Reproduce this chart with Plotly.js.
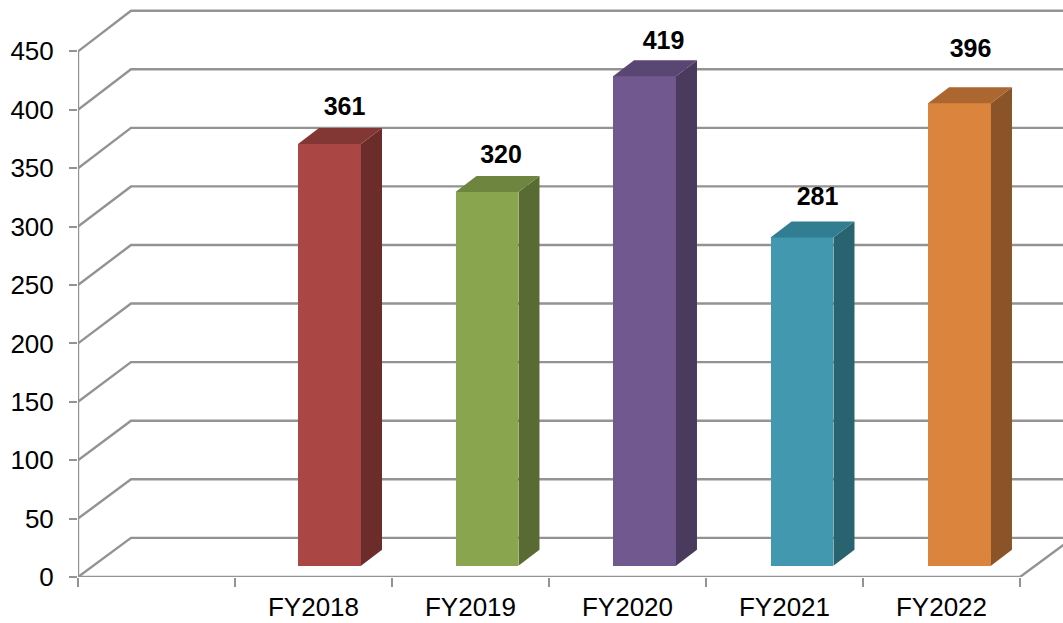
<!DOCTYPE html>
<html>
<head>
<meta charset="utf-8">
<script src="https://cdn.plot.ly/plotly-3.0.1.min.js"></script>
<style>html,body{margin:0;padding:0;background:#fff;overflow:hidden}</style>
</head>
<body>
<div id="chart" style="width:1063px;height:623px"></div>
<script>
var categories = ["FY2018", "FY2019", "FY2020", "FY2021", "FY2022"];
var values = [361, 320, 419, 281, 396];
var yTicks = [0, 50, 100, 150, 200, 250, 300, 350, 400, 450];
var slotEdges = [-0.5, 0.5, 1.5, 2.5, 3.5, 4.5, 5.5];
var slotCenters = [1, 2, 3, 4, 5];
var frontColors = ["#AA4643", "#89A54E", "#71588F", "#4198AF", "#DB843D"];
var sideColors = ["#6B2C2A", "#5A6A33", "#4A3A5E", "#296370", "#8B5428"];
var topColors = ["#823735", "#6E853F", "#5A4672", "#317D91", "#AB672F"];
var labelNudgeX = [15, 14, 19, 15.5, 11];   // px, label centre from bar centre
var labelNudgeY = [35, 35, 34, 39, 52];     // px, label centre above bar top

// projection of the pseudo-3D box, in axis units
var pxX = 157, pxY = 1.168;
var xRange = [-0.5, 5.774], yRange = [0, 494];
var wallDx = 53 / pxX, wallDy = 33.5, backScale = 1.003;
var barDx = 21 / pxX, barDy = 13.7;
var barStart = 1.102, barStep = 157.5 / pxX, barWidth = 0.401;
var lift = 9.7;
var gridColor = "#939393";

var traces = [];
function line(xs, ys, unclipped) {
  traces.push({type: "scatter", mode: "lines", x: xs, y: ys, xaxis: "x", yaxis: "y",
    line: {color: gridColor, width: 2.4}, hoverinfo: "skip", showlegend: false, cliponaxis: !unclipped});
}
// back wall and side wall grid
yTicks.forEach(function (v) {
  var back = v * backScale + wallDy;
  line([xRange[0], xRange[0] + wallDx, xRange[1]], [v, back, back]);
});
// floor right edge, front axis lines
line([5.5, 5.5 + wallDx], [0, wallDy]);
line([xRange[0], 5.5], [0, 0], true);
line([xRange[0], xRange[0]], [0, 450], true);

// bars
var barX = values.map(function (v, i) { return barStart + i * barStep; });
traces.push({type: "bar", x: barX, y: values, base: values.map(function () { return lift; }),
  width: barWidth, xaxis: "x2", yaxis: "y2", marker: {color: frontColors, line: {width: 0}},
  hoverinfo: "skip", showlegend: false});

function face(xs, ys, color) {
  traces.push({type: "scatter", mode: "lines", x: xs, y: ys, fill: "toself", fillcolor: color,
    line: {width: 0, color: color}, xaxis: "x2", yaxis: "y2", hoverinfo: "skip", showlegend: false});
}
values.forEach(function (v, i) {
  var l = barX[i] - barWidth / 2, r = barX[i] + barWidth / 2, t = v + lift;
  face([r, r + barDx, r + barDx, r, r], [lift, lift + barDy, t + barDy, t, lift], sideColors[i]);
  face([l, l + barDx, r + barDx, r, l], [t, t + barDy, t + barDy, t, t], topColors[i]);
});

// value labels
traces.push({type: "scatter", mode: "text",
  x: barX.map(function (x, i) { return x + labelNudgeX[i] / pxX; }),
  y: values.map(function (v, i) { return v + lift + labelNudgeY[i] / pxY; }),
  text: values.map(String), texttemplate: "<b>%{text}</b>",
  textposition: "middle center", textfont: {family: "Liberation Sans, Arial, sans-serif", size: 25, color: "#000"},
  xaxis: "x2", yaxis: "y2", hoverinfo: "skip", showlegend: false, cliponaxis: false});

var axisFont = {family: "Liberation Sans, Arial, sans-serif", size: 26, color: "#000"};
var layout = {
  width: 1063, height: 623,
  margin: {l: 78, r: 0, t: 0, b: 46, pad: 0},
  paper_bgcolor: "#fff", plot_bgcolor: "#fff",
  showlegend: false, bargap: 0,
  xaxis: {type: "linear", range: xRange, tickmode: "array", tickvals: slotEdges,
    ticktext: slotEdges.map(function () { return ""; }), ticks: "outside", ticklen: 9, tickwidth: 2,
    tickcolor: gridColor, showgrid: false, zeroline: false, showline: false, fixedrange: true},
  yaxis: {type: "linear", range: yRange, tickmode: "array", tickvals: yTicks,
    ticks: "outside", ticklen: 8, tickwidth: 2, tickcolor: gridColor, tickfont: axisFont,
    ticklabelstandoff: 10, showgrid: false, zeroline: false, showline: false, fixedrange: true},
  xaxis2: {type: "linear", overlaying: "x", range: xRange, anchor: "y2", side: "bottom", tickmode: "array",
    tickvals: slotCenters, ticktext: categories, ticks: "", tickfont: axisFont,
    ticklabelstandoff: 12, showgrid: false, zeroline: false, showline: false, fixedrange: true},
  yaxis2: {type: "linear", overlaying: "y", range: yRange, anchor: "x2", side: "left", showticklabels: false,
    ticks: "", showgrid: false, zeroline: false, showline: false, fixedrange: true}
};
Plotly.newPlot("chart", traces, layout, {displayModeBar: false, staticPlot: true});
</script>
</body>
</html>
